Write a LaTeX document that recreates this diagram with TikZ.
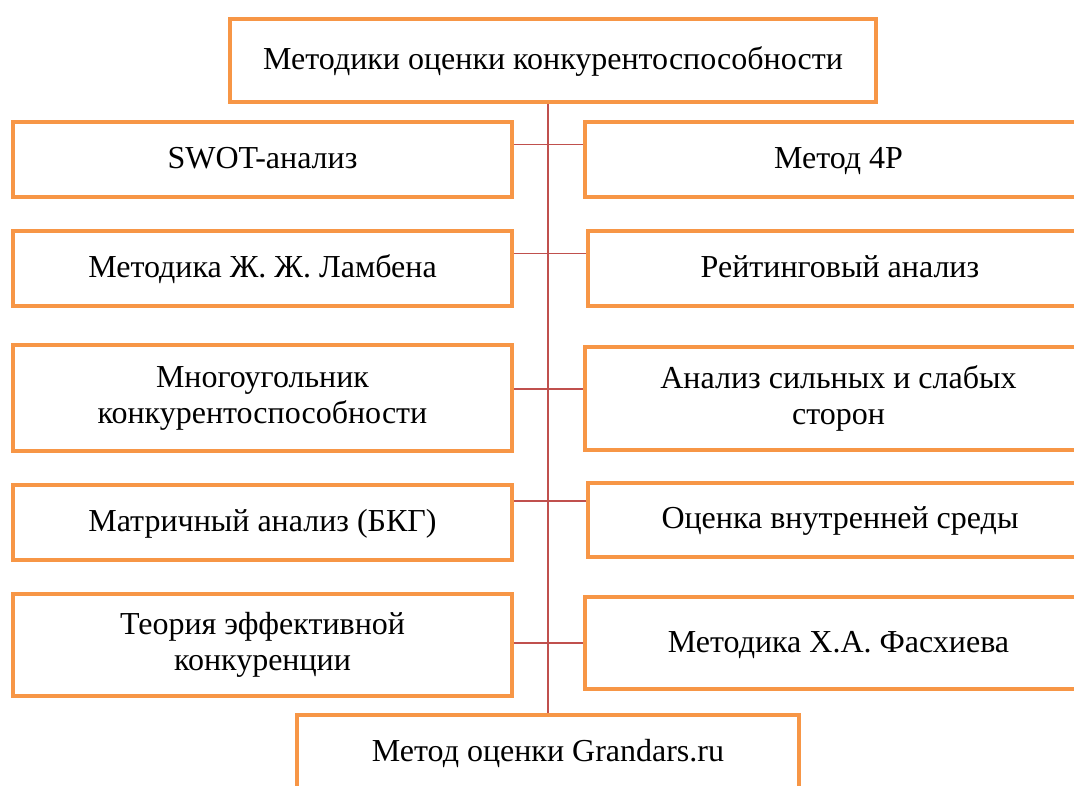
\documentclass[tikz,border=0pt]{standalone}
\usepackage{fontspec}
\setmainfont{Liberation Serif}
\usepackage{tikz}
\usetikzlibrary{calc, positioning, backgrounds}
\definecolor{boxorange}{HTML}{F79646}
\definecolor{linkred}{HTML}{C0504D}
\newcommand{\boxstrut}{\rule[-4.5pt]{0pt}{23pt}}
\tikzstyle{method} = [rectangle, draw=boxorange, line width=3pt, fill=white, align=center, inner sep=0pt, execute at begin node=\boxstrut]
\tikzstyle{leftm} = [method, minimum width=374.25pt, minimum height=56.25pt]
\tikzstyle{rightm} = [method, minimum width=380.25pt, minimum height=56.25pt]
\tikzstyle{link} = [draw=linkred, line width=1.4pt]

\begin{document}
\begin{tikzpicture}[x=0.75pt, y=-0.75pt, font=\fontsize{24}{27}\selectfont]
    \clip (0,0) rectangle (1074,785);
    \node (head) [method, minimum width=484.5pt, minimum height=62.25pt] at (553,60.5) {Методики оценки конкурентоспособности};
    % left column
    \node (l1) [leftm] at (262.5,159.5) {SWOT-анализ};
    \node (l2) [leftm] at (262.5,268.5) {Методика Ж. Ж. Ламбена};
    \node (l3) [leftm, minimum height=79.5pt] at (262.5,398) {Многоугольник\\конкурентоспособности\boxstrut};
    \node (l4) [leftm] at (262.5,522.5) {Матричный анализ (БКГ)};
    \node (l5) [leftm, minimum height=76.5pt] at (262.5,645) {Теория эффективной\\конкуренции\boxstrut};
    % right column
    \node (r1) [rightm] at (838.5,159.5) {Метод 4Р};
    \node (r2) [rightm, minimum width=378pt] at (840,268.5) {Рейтинговый анализ};
    \node (r3) [rightm, minimum height=77.25pt] at (838.5,398.5) {Анализ сильных и слабых\\сторон\boxstrut};
    \node (r4) [rightm, minimum width=378pt, minimum height=55.5pt] at (840,520) {Оценка внутренней среды};
    \node (r5) [rightm, minimum height=69pt] at (838.5,643) {Методика Х.А. Фасхиева};
    \node (tail) [method, minimum width=376.5pt, minimum height=56.25pt] at (548,752) {Метод оценки Grandars.ru};
    \begin{scope}[on background layer]
        \draw [link] (head.south -| tail.north) -- (tail.north);
        \foreach \row/\frac in {1/0.31, 2/0.31, 3/0.42, 4/0.23, 5/0.48}
            \draw [link] ($(l\row.north east)!\frac!(l\row.south east)$) coordinate (c\row) -- (c\row -| r\row.west);
    \end{scope}
\end{tikzpicture}
\end{document}
